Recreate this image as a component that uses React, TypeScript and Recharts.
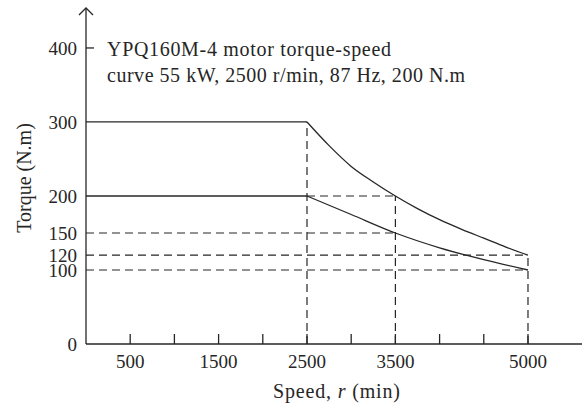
import { LineChart, Line, XAxis, YAxis, ReferenceLine } from "recharts";

const upperFlat = [
  { speed: 0, torque: 300 },
  { speed: 2500, torque: 300 },
];
const upperCurve = [
  { speed: 2500, torque: 300 },
  { speed: 2750, torque: 268 },
  { speed: 3000, torque: 240 },
  { speed: 3250, torque: 219 },
  { speed: 3500, torque: 200 },
  { speed: 3750, torque: 183 },
  { speed: 4000, torque: 168 },
  { speed: 4250, torque: 155 },
  { speed: 4500, torque: 143 },
  { speed: 4750, torque: 131 },
  { speed: 5000, torque: 120 },
];
const lowerFlat = [
  { speed: 0, torque: 200 },
  { speed: 2500, torque: 200 },
];
const lowerCurve = [
  { speed: 2500, torque: 200 },
  { speed: 3000, torque: 175 },
  { speed: 3500, torque: 150 },
  { speed: 4000, torque: 130 },
  { speed: 4500, torque: 114 },
  { speed: 5000, torque: 100 },
];

// dashed guide segments [x1, y1, x2, y2]
const guides = [
  [0, 150, 3500, 150],
  [0, 120, 5000, 120],
  [0, 100, 5000, 100],
  [2500, 200, 3500, 200],
  [2500, 0, 2500, 300],
  [3500, 0, 3500, 200],
  [5000, 0, 5000, 120],
];

const xTicks = [500, 1000, 1500, 2000, 2500, 3000, 3500, 4000, 4500, 5000];
const xLabels = [500, 1500, 2500, 3500, 5000];
const yTicks = [0, 100, 120, 150, 200, 300, 400];

const INK = "#262626";
const FONT = "'Liberation Serif', 'Times New Roman', serif";
const FS = 19;

const XTick = (props: any) => {
  const { x, y, payload } = props;
  return (
    <g>
      <line x1={x} y1={y} x2={x} y2={y - 10} stroke={INK} strokeWidth={1.3} />
      {xLabels.includes(payload.value) && (
        <text x={x} y={y + 24} textAnchor="middle" fill={INK} fontSize={FS} fontFamily={FONT}>
          {payload.value}
        </text>
      )}
    </g>
  );
};

export default function App() {
  return (
    <div style={{ position: "absolute", left: 0, top: 0, width: 582, height: 406, background: "#fff" }}>
      <LineChart width={582} height={406} margin={{ top: 8, right: 0, bottom: 0, left: 0 }}>
        <XAxis
          type="number"
          dataKey="speed"
          domain={[0, 5611]}
          ticks={xTicks}
          tick={<XTick />}
          tickLine={false}
          tickSize={0}
          tickMargin={0}
          height={62}
          axisLine={{ stroke: INK, strokeWidth: 1.3 }}
          allowDataOverflow
        />
        <YAxis
          type="number"
          dataKey="torque"
          domain={[0, 454]}
          ticks={yTicks}
          interval={0}
          width={86}
          tickLine={false}
          tickSize={0}
          tickMargin={9}
          tick={{ fill: INK, fontSize: FS, fontFamily: FONT }}
          axisLine={{ stroke: INK, strokeWidth: 1.3 }}
          allowDataOverflow
        />
        {guides.map((g, i) => (
          <ReferenceLine
            key={i}
            segment={[
              { x: g[0], y: g[1] },
              { x: g[2], y: g[3] },
            ]}
            stroke={INK}
            strokeWidth={1.2}
            strokeDasharray="8 5"
            ifOverflow="visible"
          />
        ))}
        <ReferenceLine
          segment={[
            { x: 0, y: 400 },
            { x: 90, y: 400 },
          ]}
          stroke={INK}
          strokeWidth={1.3}
          ifOverflow="visible"
        />
        <Line data={upperFlat} dataKey="torque" type="linear" stroke={INK} strokeWidth={1.3} dot={false} isAnimationActive={false} />
        <Line data={upperCurve} dataKey="torque" type="monotone" stroke={INK} strokeWidth={1.3} dot={false} isAnimationActive={false} />
        <Line data={lowerFlat} dataKey="torque" type="linear" stroke={INK} strokeWidth={1.3} dot={false} isAnimationActive={false} />
        <Line data={lowerCurve} dataKey="torque" type="monotone" stroke={INK} strokeWidth={1.3} dot={false} isAnimationActive={false} />
      </LineChart>
      <svg
        width={582}
        height={406}
        style={{ position: "absolute", left: 0, top: 0, pointerEvents: "none" }}
      >
        <polyline points="79,15 86,8 93,15" fill="none" stroke={INK} strokeWidth={1.3} />
        <g fontFamily={FONT} fontSize={20} fill={INK}>
          <text x={107} y={56} textLength={284} lengthAdjust="spacing">
            YPQ160M-4 motor torque-speed
          </text>
          <text x={107} y={82} textLength={358} lengthAdjust="spacing">
            curve 55 kW, 2500 r/min, 87 Hz, 200 N.m
          </text>
          <text x={273} y={398} textLength={127} lengthAdjust="spacing">
            Speed, <tspan fontStyle="italic">r</tspan> (min)
          </text>
          <text x={31} y={178} textAnchor="middle" transform="rotate(-90 31 178)">
            Torque (N.m)
          </text>
        </g>
      </svg>
    </div>
  );
}
